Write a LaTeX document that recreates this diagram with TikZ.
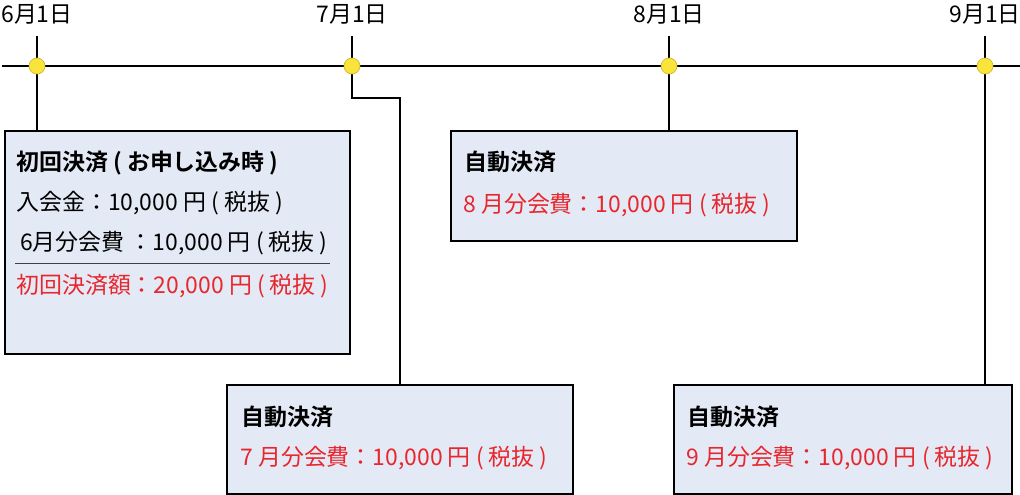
\documentclass[tikz,border=0pt]{standalone}
\usepackage{fontspec}
\setmainfont{Noto Sans CJK JP}[BoldFont={Noto Sans CJK JP Bold}]
\definecolor{boxfill}{HTML}{E4EAF5}
\definecolor{payred}{HTML}{E8262D}
\definecolor{dotyellow}{HTML}{F8E43A}
\definecolor{dotrim}{HTML}{D4B52A}

\begin{document}
\begin{tikzpicture}[x=0.75pt,y=-0.75pt,
    box/.style={draw,line width=1.8pt,fill=boxfill,inner sep=0pt,anchor=north west},
    dot/.style={circle,fill=dotyellow,draw=dotrim,line width=0.5pt,minimum size=12pt,inner sep=0pt},
    conn/.style={line width=1.4pt},
    txt/.style={anchor=base west,inner sep=0pt,font=\fontsize{17.2}{20}\selectfont},
    boldtxt/.style={txt,font=\fontsize{17.2}{20}\selectfont\bfseries},
    datelbl/.style={inner sep=0pt,font=\fontsize{17.2}{20}\selectfont}]

    \useasboundingbox (0,0) rectangle (1020,494);

    % timeline
    \draw[conn] (2,66) -- (1020,66);

    % dates and tick marks
    \foreach \m/\px in {6/37,7/352,8/669,9/985} {
        \coordinate (t\m) at (\px,66);
        \node[datelbl] (l\m) at (\px,14) {{\m}月1日};
        \draw[conn] (t\m) -- ++(0,-30);
    }

    % boxes
    \node[box,minimum width=258.75pt,minimum height=167.25pt] (b1) at (4,130) {};
    \node[box,minimum width=259.5pt,minimum height=81.75pt] (b7) at (226,384) {};
    \node[box,minimum width=259.5pt,minimum height=82.5pt] (b8) at (450,130) {};
    \node[box,minimum width=253.5pt,minimum height=81.75pt] (b9) at (673,384) {};

    % first payment
    \node[boldtxt] (b1a) at (16,170) {初回決済 ( お申し込み時 )};
    \node[txt] (b1b) at (16,210) {入会金：10,000 円 ( 税抜 )};
    \node[txt] (b1c) at (20,250) {6月分会費 ：10,000 円 ( 税抜 )};
    \draw[black!75,line width=0.6pt] (15,263) -- (330,263);
    \node[txt,payred] (b1d) at (16,293) {初回決済額：20,000 円 ( 税抜 )};

    % automatic payments
    \node[boldtxt] (b7a) at (241,425) {自動決済};
    \node[txt,payred] (b7b) at (240,465) {7 月分会費：10,000 円 ( 税抜 )};
    \node[boldtxt] (b8a) at (464,170) {自動決済};
    \node[txt,payred] (b8b) at (463,212) {8 月分会費：10,000 円 ( 税抜 )};
    \node[boldtxt] (b9a) at (687,425) {自動決済};
    \node[txt,payred] (b9b) at (686,465) {9 月分会費：10,000 円 ( 税抜 )};

    % connectors
    \draw[conn] (t6) -- (t6 |- b1.north);
    \draw[conn] (t7) -- ++(0,32) -| (b7.north);
    \draw[conn] (t8) -- (t8 |- b8.north);
    \draw[conn] (t9) -- (t9 |- b9.north);

    % date points
    \foreach \m in {6,7,8,9}
        \node[dot] (d\m) at (t\m) {};

\end{tikzpicture}
\end{document}
